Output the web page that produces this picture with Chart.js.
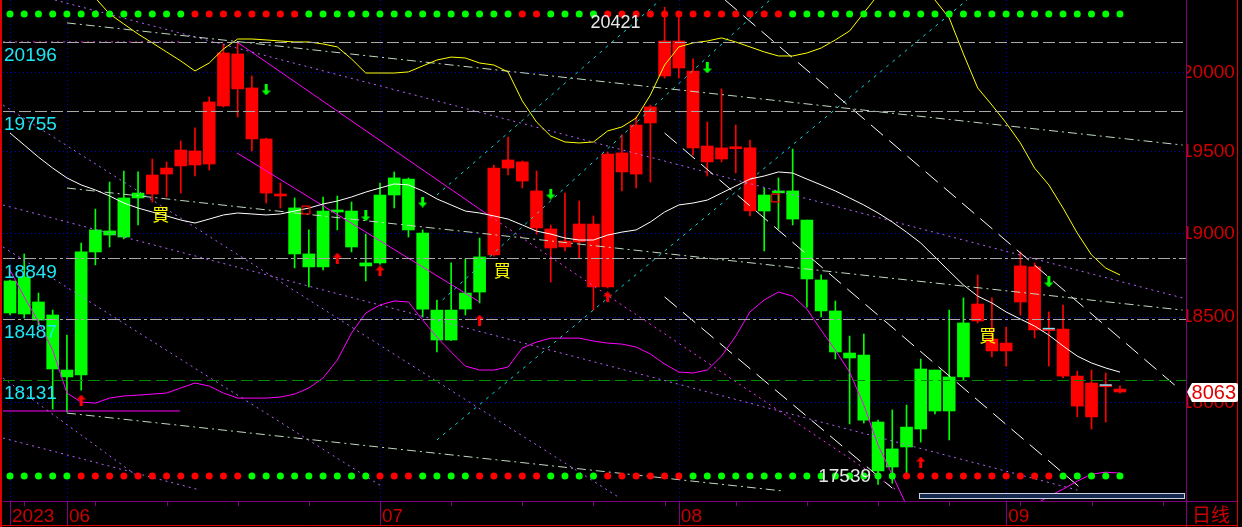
<!DOCTYPE html>
<html>
<head>
<meta charset="utf-8">
<title>日线</title>
<script src="https://cdn.jsdelivr.net/npm/chart.js"></script>
<style>
html,body{margin:0;padding:0;background:#000;overflow:hidden;}
canvas{display:block;}
</style>
</head>
<body>
<canvas id="chart" width="1242" height="527"></canvas>
<script>
// ---------------- data ----------------
const OPEN  = [18714,18738,18589,18512,18190,18161,18888,19015,18978,19216,19240,19363,19413,19506,19425,19788,20119,19902,19581,19240,19155,18876,18798,19136,19136,18822,18822,19234,19332,19002,18541,18365,18547,18648,18870,19400,19438,19259,19027,18918,18948,19057,18678,19494,19363,19681,19978,20202,20010,19537,19525,19525,19525,19136,19253,19259,19081,18720,18536,18289,18277,17891,17636,17749,17851,18190,17954,18150,18477,18371,18301,18589,18798,18424,18429,18155,17920,18098,18080];
const HIGH  = [18720,18876,18642,18541,18394,18942,19148,19314,19382,19376,19456,19438,19568,19650,19845,20183,20196,19978,19587,19308,19216,19021,19222,19228,19191,18996,19308,19376,19339,19021,18601,18822,18846,18972,19419,19593,19444,19382,19051,19246,19197,19106,19500,19606,19719,19794,20421,20390,20087,19687,19896,19668,19574,19277,19339,19518,19081,18750,18595,18388,18400,17902,17960,17988,18254,18190,18541,18613,18750,18613,18441,18888,18822,18530,18571,18184,18190,18173,18098];
const LOW   = [18512,18494,18453,17965,17948,18074,18810,18918,18966,19051,19191,19222,19246,19351,19388,19782,19719,19506,19185,19155,18792,18678,18780,19021,18888,18714,18815,19155,18978,18500,18295,18362,18512,18583,18862,19357,19277,18996,18708,18894,18852,18541,18672,19259,19277,19314,19965,19965,19481,19351,19438,19370,19106,18894,19027,19051,18559,18500,18254,17880,17885,17539,17545,17591,17777,17937,17789,18132,18465,18266,18213,18512,18377,18213,18144,17920,17851,17891,18057];
const CLOSE = [18524,18518,18482,18196,18150,18888,19021,18990,19216,19246,19357,19400,19512,19419,19813,20125,19896,19581,19246,19228,18876,18798,19136,19130,18918,18804,19234,19339,19021,18547,18365,18541,18642,18858,19400,19450,19320,19033,18912,18954,19057,18678,19487,19376,19668,19782,20202,20029,19525,19438,19456,19520,19136,19234,19247,19087,18726,18536,18295,18260,17902,17614,17738,17862,18196,17954,18150,18465,18577,18301,18347,18804,18424,18420,18155,17982,18115,18093,18063];
// candle colour state: 1 = red, 0 = green
const CANDLE_RED = [0,0,0,0,0,0,0,0,0,0, 1,1,1,1,1,1,1,1,1,1, 0,0,0,0,0,0,0,0,0,0,0,0,0,0, 1,1,1,1,1,1,1,1,1,1,1,1,1,1,1,1,1,1,1, 0,0,0,0,0,0,0,0,0,0,0,0,0,0,0, 1,1,1,1,1,1,1,1,1,1,1];

// upper band (yellow), middle line (white), lower band (magenta)
const UPPER = [21064,20963,20863,20764,20665,20566,20481,20377,20312,20247,20190,20132,20074,20010,20061,20151,20215,20215,20209,20202,20196,20196,20183,20164,20087,19997,19997,19997,20004,20042,20080,20099,20093,20061,20048,20004,19820,19687,19599,19562,19556,19562,19631,19656,19712,19857,20048,20164,20190,20202,20222,20196,20164,20132,20106,20106,20125,20157,20209,20267,20384,20501,20599,20632,20566,20468,20351,20119,19902,19794,19681,19556,19400,19296,19154,19002,18870,18791,18750];
const MIDDLE = [19618,19543,19468,19400,19339,19296,19265,19228,19185,19154,19130,19106,19081,19063,19087,19112,19124,19118,19112,19118,19136,19154,19179,19197,19222,19252,19277,19302,19296,19259,19210,19173,19136,19124,19106,19087,19051,19014,18996,18972,18960,18960,18990,19008,19021,19069,19130,19173,19185,19203,19246,19289,19332,19351,19376,19369,19332,19296,19259,19216,19173,19124,19069,19008,18942,18857,18773,18690,18624,18583,18530,18488,18447,18394,18330,18271,18231,18202,18178];
const LOWER = [18779,18619,18471,18306,18057,18005,17999,18028,18040,18045,18051,18057,18086,18115,18097,18057,18028,18028,18028,18034,18051,18086,18144,18248,18406,18524,18571,18595,18589,18482,18382,18295,18213,18190,18190,18207,18318,18353,18376,18376,18376,18359,18347,18341,18324,18283,18225,18178,18173,18190,18271,18388,18530,18601,18648,18624,18547,18423,18306,18178,17988,17760,17591,17423,17313,17257,17230,17230,17257,17285,17313,17368,17423,17473,17512,17557,17596,17607,17602];

// signal dots rows (1 = red, 0 = green)
const TOP_DOTS_RED = [0,0,0,0,0,0,0,0,0,0,0,0,0, 1,1,1,1,1,1,1,1, 0,0,0,0,0,0,0,0,0,0,0,0,0,0,0, 1,1, 0,0,0,0, 1,1,1,1,1,1,1,1,1,1,1,1,1, 0,0,0,0,0,0,0,0,0,0,0,0,0,0,0,0,0,0,0,0,0,0,0,0];
const BOTTOM_DOTS_RED = [0,0,0,0,0, 1,1,1,1,1,1,1,1,1,1,1,1, 0,0,0,0,0,0,0,0,0, 1,1,1, 0,0,0,0, 1,1,1,1,1, 0,0,0,0, 1,1,1,1,1,1, 0,0,0,0,0,0,0,0,0,0,0,0,0,0,0, 1,1,1,1,1,1,1,1,1,1,1, 0,0,0,0,0];
const DOT_ROW_TOP = 20377, DOT_ROW_BOTTOM = 17585;

// horizontal price levels and their labels
const LEVELS = [20196, 19755, 18849, 18487, 18131];
// right axis ticks
const Y_TICKS = [18000, 18500, 19000, 19500, 20000];
// month ticks on the date axis
const MONTH_IDX = [0, 4, 26, 47, 70];
const MONTH_LABELS = ['2023', '06', '07', '08', '09'];
const PERIOD_LABEL = '日线';
const LAST_PRICE = 18063;
const HIGH_LABEL = {idx: 46, value: 20421};
const LOW_LABEL = {idx: 61, value: 17539};

// signal markers
const ARROW_DOWN_IDX = [18, 25, 29, 38, 49, 73];
const ARROW_DOWN_P   = [19889, 19106, 19191, 19240, 20029, 18708];
const ARROW_UP_IDX   = [5, 23, 26, 33, 42, 64];
const ARROW_UP_P     = [18017, 18851, 18774, 18482, 18619, 17664];
const BUY_IDX = [10.6, 34.6, 68.7];
const BUY_P   = [19112, 18774, 18394];
const SQUARE_IDX = [20.8, 53.8];
const SQUARE_P   = [19142, 19216];
const CYAN_TICK_IDX = [73, 77];
const CYAN_TICK_P   = [18432, 18103];

// drawn trend lines: [index1, price1, index2, price2]
const GREY_LINES = [[4, 20319, 82.4, 19543], [4, 19277, 82.4, 18541], [4, 17942, 54.3, 17502]];
const WHITE_DASH_LINES = [[46, 19618, 75.4, 17507], [50.25, 20468, 82, 18092], [46, 18619, 62, 17518]];
const CYAN_LINES = [[30, 17789, 67.25, 20468], [30, 19234, 45.7, 20468], [30.4, 18601, 53.4, 20468]];
const VIOLET_LINES = [[3.16, 20468, 82.4, 18613], [-0.49, 19173, 75, 17507], [-0.49, 18918, 26.2, 17524], [-0.49, 17800, 13.35, 17507], [-0.49, 18144, 9.14, 17574], [-0.49, 19794, 42.87, 17462]];
const MAGENTA_LINES = [[15.95, 20196, 33.4, 19124], [15.95, 19494, 33, 18589], [-0.49, 17954, 11.95, 17954]];
const MAGENTA_DOT_LINES = [[33.4, 19124, 62.3, 17507], [-0.49, 20196, 11.95, 20196]];

// ---------------- chart ----------------
const RED = '#ff0000', GREEN = '#00ff00';
const X_MIN = -0.492, X_MAX = 82.64, Y_MIN = 17446, Y_MAX = 20468;
const N = OPEN.length;
const IDX = Array.from({length: N}, (_, i) => i);
const candleColors = IDX.map(i => CANDLE_RED[i] ? RED : GREEN);

function arrowCanvas(color, up) {
  const cv = document.createElement('canvas');
  cv.width = 9; cv.height = 11;
  const g = cv.getContext('2d');
  g.fillStyle = color;
  g.beginPath();
  if (up) { g.moveTo(4.5, 0); g.lineTo(9, 5); g.lineTo(0, 5); }
  else { g.moveTo(4.5, 11); g.lineTo(9, 6); g.lineTo(0, 6); }
  g.closePath(); g.fill();
  g.fillRect(3, up ? 5 : 0, 3, 6);
  return cv;
}

function lineSets(list, color, dash, order) {
  return list.map(l => ({
    type: 'line',
    data: [{x: l[0], y: l[1]}, {x: l[2], y: l[3]}],
    borderColor: color, borderWidth: 1, borderDash: dash,
    pointRadius: 0, order: order
  }));
}

const datasets = [
  { type: 'scatter', data: ARROW_DOWN_IDX.map((x, k) => ({x, y: ARROW_DOWN_P[k]})), pointStyle: arrowCanvas(GREEN, false), order: 1 },
  { type: 'scatter', data: ARROW_UP_IDX.map((x, k) => ({x, y: ARROW_UP_P[k]})), pointStyle: arrowCanvas(RED, true), order: 1 },
  { type: 'scatter', data: SQUARE_IDX.map((x, k) => ({x, y: SQUARE_P[k]})), pointStyle: 'rect', pointRadius: 5.5, pointBorderColor: RED, pointBackgroundColor: 'rgba(0,0,0,0)', pointBorderWidth: 1.2, order: 1 },
  { type: 'scatter', data: CYAN_TICK_IDX.map((x, k) => ({x, y: CYAN_TICK_P[k]})), pointStyle: 'line', pointRadius: 6, pointBorderColor: '#70e8ff', pointBorderWidth: 1.5, order: 1 },
  { type: 'scatter', data: IDX.map(i => ({x: i, y: DOT_ROW_TOP})), pointRadius: 3.5, pointBorderWidth: 0, pointBackgroundColor: IDX.map(i => TOP_DOTS_RED[i] ? RED : GREEN), order: 2 },
  { type: 'scatter', data: IDX.map(i => ({x: i, y: DOT_ROW_BOTTOM})), pointRadius: 3.5, pointBorderWidth: 0, pointBackgroundColor: IDX.map(i => BOTTOM_DOTS_RED[i] ? RED : GREEN), order: 2 },
  { type: 'line', data: IDX.map(i => ({x: i, y: UPPER[i]})), borderColor: '#ffff00', borderWidth: 1, pointRadius: 0, order: 5 },
  { type: 'line', data: IDX.map(i => ({x: i, y: MIDDLE[i]})), borderColor: '#ffffff', borderWidth: 1, pointRadius: 0, order: 5 },
  { type: 'line', data: IDX.map(i => ({x: i, y: LOWER[i]})), borderColor: '#ff00ff', borderWidth: 1, pointRadius: 0, order: 5 },
  ...lineSets(GREY_LINES, '#c0d8c0', [9, 4, 2, 4], 10),
  ...lineSets(WHITE_DASH_LINES, '#ffffff', [16, 8], 10),
  ...lineSets(CYAN_LINES, '#10d8d8', [3, 5], 10),
  ...lineSets(VIOLET_LINES, '#b464ff', [2, 4], 10),
  ...lineSets(MAGENTA_LINES, '#ff00ff', [], 10),
  ...lineSets(MAGENTA_DOT_LINES, '#ff30ff', [2, 4], 10),
  { type: 'bar', data: IDX.map(i => ({x: i, y: [Math.min(OPEN[i], CLOSE[i]), Math.max(OPEN[i], CLOSE[i])]})), backgroundColor: candleColors, barThickness: 12, minBarLength: 2, grouped: false, order: 19 },
  { type: 'bar', data: IDX.map(i => ({x: i, y: [LOW[i], HIGH[i]]})), backgroundColor: candleColors, barThickness: 1, grouped: false, order: 20 }
];

const FONT = 'Liberation Sans, Arial, sans-serif';

const decor = {
  id: 'decor',
  beforeDraw(chart) {
    const c = chart.ctx;
    c.save(); c.fillStyle = '#000'; c.fillRect(0, 0, chart.width, chart.height); c.restore();
  },
  beforeDatasetsDraw(chart) {
    const {ctx, chartArea: a, scales: {x}} = chart;
    ctx.save();
    ctx.strokeStyle = '#0000c8'; ctx.lineWidth = 1; ctx.setLineDash([1, 3]);
    MONTH_IDX.forEach(i => {
      const px = Math.round(x.getPixelForValue(i)) + 0.5;
      ctx.beginPath(); ctx.moveTo(px, a.top); ctx.lineTo(px, a.bottom); ctx.stroke();
    });
    ctx.restore();
  },
  afterDatasetsDraw(chart) {
    const {ctx, chartArea: a, scales: {x, y}} = chart;
    ctx.save();
    const styles = [
      {c: '#a8a8a8', d: [12, 4]}, {c: '#a8a8a8', d: [12, 4]},
      {c: '#a8a8a8', d: [12, 3, 3, 3]}, {c: '#a8a8a8', d: [12, 3, 3, 3]},
      {c: '#008c00', d: [12, 5]}
    ];
    LEVELS.forEach((v, k) => {
      const py = Math.round(y.getPixelForValue(v)) + 0.5;
      ctx.strokeStyle = styles[k].c; ctx.setLineDash(styles[k].d); ctx.lineWidth = 1;
      ctx.beginPath(); ctx.moveTo(a.left, py); ctx.lineTo(a.right, py); ctx.stroke();
    });
    ctx.setLineDash([]);
    ctx.font = '19px ' + FONT; ctx.fillStyle = '#1ce8f4';
    ctx.textAlign = 'left'; ctx.textBaseline = 'middle';
    LEVELS.forEach(v => {
      const py = y.getPixelForValue(v);
      ctx.fillText(String(v), 4, py + 14);
    });
    ctx.font = '17px "Noto Sans CJK TC"'; ctx.fillStyle = '#ffff00'; ctx.textAlign = 'center';
    BUY_IDX.forEach((i, k) => ctx.fillText('買', x.getPixelForValue(i), y.getPixelForValue(BUY_P[k])));
    ctx.font = '18px ' + FONT; ctx.fillStyle = '#e8e8e8';
    ctx.textAlign = 'right'; ctx.textBaseline = 'alphabetic';
    ctx.fillText(String(HIGH_LABEL.value), x.getPixelForValue(HIGH_LABEL.idx) - 24, y.getPixelForValue(HIGH_LABEL.value) + 21);
    ctx.font = '19px ' + FONT;
    ctx.fillText(String(LOW_LABEL.value), x.getPixelForValue(LOW_LABEL.idx) - 7, y.getPixelForValue(LOW_LABEL.value) - 2);
    ctx.restore();
  },
  afterDraw(chart) {
    const {ctx, chartArea: a, scales: {x, y}} = chart;
    const W = chart.width, H = chart.height;
    ctx.save();
    ctx.fillStyle = '#16284e'; ctx.fillRect(919.5, 493.5, 265, 5);
    ctx.strokeStyle = '#c8d0e0'; ctx.lineWidth = 1; ctx.strokeRect(919.5, 493.5, 265, 5);
    ctx.strokeStyle = '#800080'; ctx.lineWidth = 1;
    ctx.beginPath(); ctx.moveTo(a.left, a.bottom + 0.5); ctx.lineTo(W - 5, a.bottom + 0.5); ctx.stroke();
    ctx.beginPath(); ctx.moveTo(a.right + 0.5, 0); ctx.lineTo(a.right + 0.5, H); ctx.stroke();
    MONTH_IDX.forEach(i => {
      const px = Math.round(x.getPixelForValue(i)) + 0.5;
      ctx.beginPath(); ctx.moveTo(px, a.bottom); ctx.lineTo(px, H - 2); ctx.stroke();
    });
    for (let i = 1; i < X_MAX; i += 5) {
      const px = Math.round(x.getPixelForValue(i)) + 0.5;
      ctx.beginPath(); ctx.moveTo(px, a.bottom); ctx.lineTo(px, a.bottom + 5); ctx.stroke();
    }
    ctx.strokeStyle = '#e00000';
    ctx.beginPath(); ctx.moveTo(W - 4.5, 0); ctx.lineTo(W - 4.5, H); ctx.stroke();
    ctx.beginPath(); ctx.moveTo(0, H - 1.5); ctx.lineTo(W - 4, H - 1.5); ctx.stroke();
    ctx.lineWidth = 2;
    ctx.beginPath(); ctx.moveTo(1, 0); ctx.lineTo(1, H); ctx.stroke();
    ctx.fillStyle = '#cc0000'; ctx.font = '19px ' + FONT;
    ctx.textAlign = 'left'; ctx.textBaseline = 'middle';
    MONTH_IDX.forEach((i, k) => ctx.fillText(MONTH_LABELS[k], x.getPixelForValue(i) + 2, 517));
    ctx.font = '19px "Noto Sans CJK SC"';
    ctx.fillText(PERIOD_LABEL, a.right + 6, 515);
    const py = Math.round(y.getPixelForValue(LAST_PRICE));
    ctx.beginPath();
    ctx.moveTo(a.right + 1, py);
    ctx.lineTo(a.right + 6, py - 9);
    ctx.lineTo(W - 6, py - 9);
    ctx.quadraticCurveTo(W - 4, py - 9, W - 4, py - 7);
    ctx.lineTo(W - 4, py + 8);
    ctx.quadraticCurveTo(W - 4, py + 10, W - 6, py + 10);
    ctx.lineTo(a.right + 6, py + 10);
    ctx.closePath();
    ctx.fillStyle = '#ffffff'; ctx.fill();
    ctx.save(); ctx.clip();
    ctx.fillStyle = '#e00000'; ctx.font = '20px ' + FONT;
    ctx.textAlign = 'right'; ctx.textBaseline = 'middle';
    ctx.fillText(String(LAST_PRICE), W - 6, py + 1);
    ctx.restore();
    ctx.restore();
  }
};

new Chart(document.getElementById('chart'), {
  type: 'bar',
  data: { datasets },
  options: {
    responsive: false,
    animation: false,
    devicePixelRatio: 1,
    events: [],
    layout: { autoPadding: false, padding: { left: 3, right: 0, top: 0, bottom: 26 } },
    plugins: { legend: { display: false }, tooltip: { enabled: false } },
    scales: {
      x: {
        type: 'linear', min: X_MIN, max: X_MAX, offset: false, display: false,
        grid: { offset: false },
        afterDataLimits: s => { s.min = X_MIN; s.max = X_MAX; }
      },
      y: {
        type: 'logarithmic', position: 'right', min: Y_MIN, max: Y_MAX,
        afterBuildTicks: s => { s.ticks = Y_TICKS.map(v => ({value: v})); },
        afterFit: s => { s.width = 56; s.paddingTop = 0; s.paddingBottom = 0; },
        ticks: { color: '#d00000', font: { family: FONT, size: 19 }, padding: -4, autoSkip: false, callback: v => String(v) },
        grid: { color: '#0000c0', drawTicks: false, lineWidth: 1 },
        border: { display: false, dash: [1, 3] }
      }
    }
  },
  plugins: [decor]
});
</script>
</body>
</html>
